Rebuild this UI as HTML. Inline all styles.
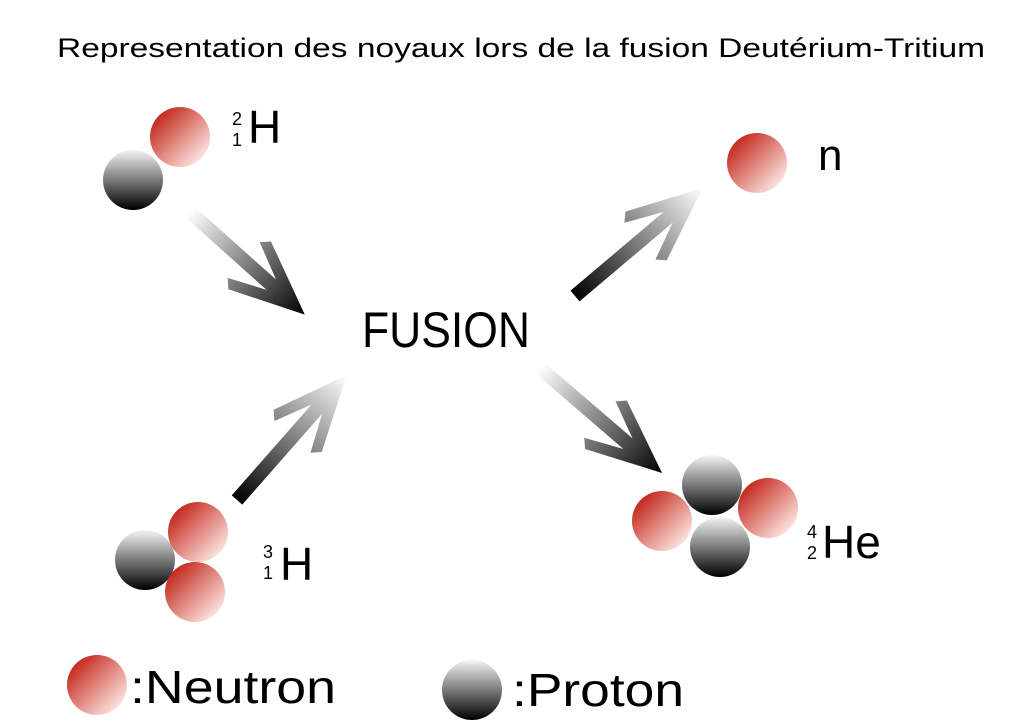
<!DOCTYPE html>
<html><head><meta charset="utf-8"><style>
html,body{margin:0;padding:0;background:#fff;}
svg{display:block;}
text{font-family:"Liberation Sans",sans-serif;fill:#000;}
</style></head><body>
<svg width="1024" height="724" viewBox="0 0 1024 724" xmlns="http://www.w3.org/2000/svg">
<defs>
<linearGradient id="neu" x1="0.15" y1="0.15" x2="0.85" y2="0.85">
<stop offset="0" stop-color="#c52b1f"/><stop offset="1" stop-color="#fbe0dc"/></linearGradient>
<linearGradient id="pro" x1="0" y1="0" x2="0" y2="1">
<stop offset="0" stop-color="#f4f4f4"/><stop offset="1" stop-color="#000"/></linearGradient>
<linearGradient id="wb" x1="0" y1="0" x2="1" y2="0">
<stop offset="0" stop-color="#fff"/><stop offset="1" stop-color="#000"/></linearGradient>
<linearGradient id="bw" x1="0" y1="0" x2="1" y2="0">
<stop offset="0" stop-color="#000"/><stop offset="1" stop-color="#fff"/></linearGradient>
</defs>

<text x="57" y="57" font-size="27" textLength="928" lengthAdjust="spacingAndGlyphs">Representation des noyaux lors de la fusion Deutérium-Tritium</text>

<circle cx="180" cy="137" r="30" fill="url(#neu)"/>
<circle cx="133" cy="180" r="30" fill="url(#pro)"/>
<text x="232" y="125" font-size="18">2</text>
<text x="232" y="146" font-size="18">1</text>
<text x="248" y="143" font-size="46">H</text>

<circle cx="757" cy="163" r="30" fill="url(#neu)"/>
<text x="818" y="170" font-size="44">n</text>

<circle cx="145" cy="560" r="30" fill="url(#pro)"/>
<circle cx="198" cy="532" r="30" fill="url(#neu)"/>
<circle cx="195" cy="592" r="30" fill="url(#neu)"/>
<text x="263" y="558" font-size="18">3</text>
<text x="263" y="579" font-size="18">1</text>
<text x="280" y="580" font-size="46">H</text>

<circle cx="662" cy="521" r="30" fill="url(#neu)"/>
<circle cx="768" cy="508" r="30" fill="url(#neu)"/>
<circle cx="712" cy="485" r="30" fill="url(#pro)"/>
<circle cx="720" cy="547" r="30" fill="url(#pro)"/>
<text x="807" y="538" font-size="18">4</text>
<text x="807" y="559" font-size="18">2</text>
<text x="822" y="558" font-size="46">He</text>

<text x="362" y="347" font-size="50" textLength="168" lengthAdjust="spacingAndGlyphs">FUSION</text>

<g transform="translate(190,212) rotate(41.8)">
<polygon points="0,-7 109,-7 72,-24 80,-32 154,0 80,32 72,24 109,7 0,7" fill="url(#wb)"/></g>
<g transform="translate(575,296) rotate(-40.2)">
<polygon points="0,-7 122,-7 85,-24 93,-32 167,0 93,32 85,24 122,7 0,7" fill="url(#bw)"/></g>
<g transform="translate(237,500) rotate(-48.7)">
<polygon points="0,-7 121,-7 84,-24 92,-32 166,0 92,32 84,24 121,7 0,7" fill="url(#bw)"/></g>
<g transform="translate(540,368) rotate(40.7)">
<polygon points="0,-7 116,-7 79,-24 87,-32 161,0 87,32 79,24 116,7 0,7" fill="url(#wb)"/></g>

<circle cx="97" cy="685" r="30" fill="url(#neu)"/>
<text x="130" y="703" font-size="46" textLength="206" lengthAdjust="spacingAndGlyphs">:Neutron</text>
<circle cx="472" cy="690" r="30" fill="url(#pro)"/>
<text x="512" y="706" font-size="46" textLength="172" lengthAdjust="spacingAndGlyphs">:Proton</text>
</svg>
</body></html>
